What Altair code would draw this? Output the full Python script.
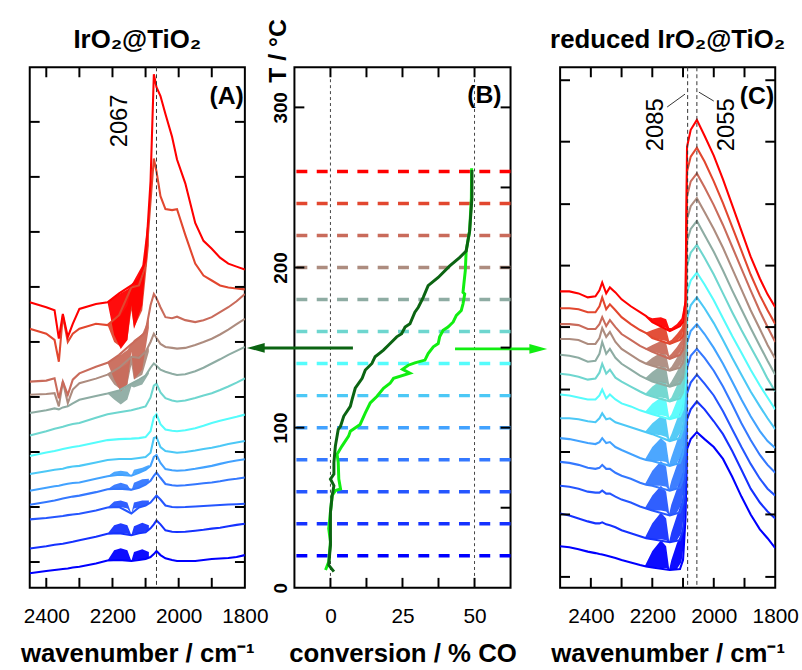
import altair as alt
import pandas as pd

FONT = "Liberation Sans"

# ---------------- temperatures / colours ----------------
TEMPS = [20, 40, 60, 80, 100, 120, 140, 160, 180, 200, 220, 240, 260]
COLORS = ["#0000ff", "#1532ff", "#2556ff", "#3478ff", "#42a2ff", "#4cc8f6", "#55fcfc",
          "#6ed6cf", "#8eaca3", "#ad8c7f", "#c96b5b", "#e2472f", "#ff0000"]

# ---------------- panel A : IrO2@TiO2 spectra (offset heights) ----------------
A_WN = [2450, 2400, 2375, 2362, 2350, 2335, 2320, 2300, 2250, 2215, 2180, 2143, 2120, 2100,
        2085, 2075, 2067, 2055, 2040, 2020, 2005, 1980, 1950, 1925, 1900, 1875, 1850, 1825, 1800]
A20 = [14.7, 17, 18, 18.5, 19, 19.5, 20.5, 21.3, 24.5, 27.5, 28, 27, 28, 29, 31, 34, 37, 33, 29.7, 28, 27, 27, 27, 28, 29, 29.5, 30, 31, 33]
A40 = [39.7, 42, 43.5, 44, 44.5, 45.5, 46.5, 48, 51.5, 54.5, 55, 53, 55, 56, 60, 64, 68, 64, 58, 56.5, 56.3, 56.5, 57.5, 58.5, 59.7, 60.5, 62, 63.5, 64.7]
A60 = [69, 70.5, 71.5, 72, 72.5, 73.3, 74, 74.7, 78, 81, 81.5, 75, 81, 83, 86, 90, 93, 89, 83, 81.5, 81.3, 81.5, 82, 82.5, 83, 83.5, 84, 84.3, 84.7]
A80 = [83.7, 86.5, 88, 89, 90, 91, 92, 93, 96.5, 99.5, 100, 99, 101, 104, 108, 113, 116.3, 111, 104.7, 103.5, 103, 103.5, 104.5, 105.5, 106.3, 107.5, 109, 110, 111.3]
A100 = [98, 101, 102.5, 103, 104, 105, 105.7, 106.3, 110, 112.5, 114, 113, 116, 119, 123, 132, 134, 126, 119.7, 118.5, 118, 118.5, 120, 121.5, 123, 125, 127, 128.5, 129.7]
A120 = [114.7, 117.5, 119, 119.5, 120, 121.5, 122.3, 123, 126.5, 129, 130, 130, 131, 132, 136.3, 151, 152, 142, 138, 137, 136.3, 137, 138.5, 140, 141.3, 143, 145, 146.5, 148]
A140 = [133, 136.5, 138, 139, 140, 141, 142, 143, 146.5, 149, 150, 150.5, 151, 152, 158, 172, 175, 165, 159.7, 158.5, 158, 159, 161, 163.5, 166.3, 168.5, 170.5, 172.5, 174.7]
A160 = [153.7, 158, 160.5, 161.5, 162.5, 164, 165.2, 166.3, 171.5, 175, 177, 179, 181, 183, 192, 204, 206, 197, 191.3, 189, 188, 189, 191.5, 194, 196.3, 199.5, 203, 207, 211.3]
A180 = [176.3, 179, 181, 180, 182, 183, 186, 189.7, 193.5, 196, 199, 206, 210, 214, 222, 226.3, 224, 220, 218, 216, 214.7, 215.5, 218.5, 222, 226.3, 230.5, 235, 239, 243]
A200 = [194.7, 195.5, 196.3, 183, 208, 186.3, 200, 206.3, 211, 215, 222, 233, 232, 238, 248, 256.3, 252, 246, 243, 242, 241.3, 242, 245, 248, 251.3, 255.5, 260.5, 266, 271.3]
A220 = [208, 209, 211.3, 191.3, 208, 194.7, 210, 216.3, 223, 227, 235, 246, 252, 258, 285, 296.3, 292, 283, 273, 272, 273.5, 270, 268, 270, 273, 278, 283, 289, 296.3]
A240 = [261.3, 256.3, 250, 228, 274.7, 248, 256.3, 261.3, 266.3, 265, 275, 303, 305, 325, 390, 433, 420, 395, 382, 381, 382, 356, 327, 315, 310, 305, 303, 302, 301]
A260 = [288, 283, 280, 251.3, 276.3, 253, 266.3, 281.3, 286.3, 288, 297, 305, 312, 330, 410, 518, 505, 496, 478, 455, 432, 408, 368, 350, 342, 333, 327, 324, 321]
A_LINES = [A20, A40, A60, A80, A100, A120, A140, A160, A180, A200, A220, A240, A260]

# gas-phase CO / dense-noise envelopes in panel A
A_BAND_WN = [2215, 2195, 2175, 2155, 2143, 2135, 2110, 2090]
A_BAND_T = [20, 40, 60, 80, 100, 180, 200, 220, 240, 260]
A20_LO = [27.5, 28, 28, 28, 27, 28, 28.5, 30]
A20_HI = [27.5, 38, 40, 38, 27, 36, 39, 36]
A40_LO = [54.5, 55, 55, 54.5, 53, 54.5, 55.5, 58]
A40_HI = [54.5, 63, 65, 63, 53, 62, 65.5, 63]
A60_LO = [81, 81.5, 81.5, 80, 75, 80, 82, 85]
A60_HI = [81, 87, 88, 86, 75, 86, 88, 88]
A80_LO = [99.5, 100, 100, 99.5, 98, 100, 102, 106]
A80_HI = [99.5, 104, 106, 104, 98, 106, 109.5, 110]
A100_LO = [112.5, 114, 114, 114, 113, 115, 117, 122]
A100_HI = [112.5, 117, 118, 117, 113, 119, 121, 124]
A180_LO = [196, 190, 185, 190, 203, 202, 205, 216]
A180_HI = [196, 198, 199, 203, 206, 208, 212, 218]
A200_LO = [215, 205, 200, 205, 225, 210, 215, 238]
A200_HI = [215, 220, 222, 226, 233, 232, 236, 242]
A220_LO = [227, 210, 198, 205, 238, 210, 220, 262]
A220_HI = [227, 232, 235, 240, 246, 250, 256, 272]
A240_LO = [265, 248, 243, 250, 280, 262, 280, 345]
A240_HI = [265, 270, 275, 285, 303, 305, 320, 370]
A260_LO = [288, 255, 241, 250, 285, 261, 285, 365]
A260_HI = [288, 293, 297, 301, 305, 310, 325, 380]
A_LOS = [A20_LO, A40_LO, A60_LO, A80_LO, A100_LO, A180_LO, A200_LO, A220_LO, A240_LO, A260_LO]
A_HIS = [A20_HI, A40_HI, A60_HI, A80_HI, A100_HI, A180_HI, A200_HI, A220_HI, A240_HI, A260_HI]

# ---------------- panel C : reduced IrO2@TiO2 spectra ----------------
C_WN = [2500, 2470, 2440, 2410, 2385, 2372, 2363, 2350, 2338, 2320, 2300, 2270, 2240, 2220, 2200, 2143,
        2110, 2100, 2092, 2087, 2075, 2055, 2030, 2000, 1970, 1940, 1910, 1880, 1850, 1825, 1800]
C20 = [42, 41, 39, 36.5, 35, 34, 33.5, 32.5, 31.5, 30, 28, 25.5, 23, 21.5, 20.5, 18, 19, 28, 70, 140, 150, 157, 150, 142, 130, 112, 92, 74, 59, 50, 40]
C40 = [75, 73, 70, 67, 65, 65, 66, 64, 63, 61, 58, 55, 52, 50, 49, 46, 48, 58, 95, 170, 180, 188, 180, 168, 155, 138, 119, 100, 86, 77, 70]
C60 = [103, 102, 100, 97, 96, 96, 98, 95, 95, 92, 89, 86, 82, 80, 78, 73, 76, 86, 120, 196, 207, 215, 206, 194, 178, 160, 142, 125, 110, 100, 93]
C80 = [127, 126, 124, 121, 120, 121, 124, 120, 120, 116, 113, 110, 106, 104, 103, 98, 101, 110, 145, 222, 234, 241, 232, 219, 203, 185, 166, 149, 134, 124, 116]
C100 = [151, 150, 148, 146, 145, 147, 151, 146, 147, 142, 139, 135, 131, 129, 128, 123, 126, 135, 170, 247, 259, 266, 256, 242, 226, 208, 190, 173, 158, 148, 141]
C120 = [171, 171, 170, 168, 167, 171, 176, 170, 171, 167, 165, 162, 159, 157, 155, 148, 151, 160, 190, 272, 285, 293, 282, 267, 250, 232, 215, 198, 183, 171, 160]
C140 = [195, 194, 192, 190, 190, 194, 200, 191, 195, 190, 186, 183, 179, 177, 175, 170, 173, 180, 210, 298, 310, 318, 306, 290, 272, 254, 237, 220, 204, 192, 180]
C160 = [216, 215, 213, 210, 211, 217, 226, 216, 220, 212, 208, 203, 198, 195, 193, 188, 191, 197, 222, 325, 338, 346, 333, 316, 297, 278, 260, 243, 226, 211, 198]
C180 = [235, 234, 232, 228, 229, 236, 248, 236, 241, 232, 226, 220, 214, 211, 208, 203, 206, 212, 235, 350, 362, 370, 356, 339, 320, 300, 281, 262, 244, 229, 215]
C200 = [251, 251, 250, 246, 246, 252, 262, 253, 258, 248, 241, 235, 229, 226, 224, 219, 222, 227, 250, 372, 385, 393, 379, 362, 343, 322, 301, 280, 261, 245, 231]
C220 = [266, 266, 265, 261, 261, 266, 273, 264, 270, 263, 256, 250, 244, 241, 238, 231, 235, 240, 262, 395, 410, 418, 404, 386, 366, 344, 322, 300, 279, 263, 248]
C240 = [282, 282, 281, 278, 278, 284, 293, 281, 286, 280, 273, 266, 260, 257, 252, 246, 250, 254, 275, 420, 435, 444, 430, 410, 388, 364, 340, 316, 295, 280, 266]
C260 = [299, 299, 297, 293, 294, 300, 308, 297, 303, 298, 291, 284, 278, 274, 268, 259, 264, 268, 290, 445, 462, 472, 456, 436, 412, 386, 360, 334, 312, 296, 283]
C_LINES = [C20, C40, C60, C80, C100, C120, C140, C160, C180, C200, C220, C240, C260]

C_BAND_WN = [2225, 2200, 2172, 2155, 2145, 2138, 2120, 2105, 2095]
C20_LO = [21.5, 20.5, 20, 20, 18, 18, 19, 26, 50]
C20_HI = [21.5, 37, 48, 42, 19, 28, 45, 55, 70]
C40_LO = [50, 49, 49, 48, 46, 46, 48, 55, 80]
C40_HI = [50, 65, 76, 70, 47, 56, 73, 86, 100]
C60_LO = [80, 78, 78, 77, 73, 73, 76, 84, 105]
C60_HI = [80, 93, 103, 97, 75, 84, 100, 113, 125]
C80_LO = [104, 103, 103, 102, 98, 98, 101, 108, 130]
C80_HI = [104, 118, 128, 122, 100, 108, 124, 137, 150]
C100_LO = [129, 128, 128, 127, 123, 123, 126, 133, 155]
C100_HI = [129, 142, 151, 146, 125, 132, 148, 160, 175]
C120_LO = [157, 155, 154, 152, 148, 148, 151, 158, 178]
C120_HI = [157, 166, 173, 170, 150, 155, 170, 182, 195]
C140_LO = [177, 175, 174, 173, 170, 170, 172, 178, 195]
C140_HI = [177, 186, 192, 190, 172, 175, 189, 200, 212]
C160_LO = [195, 193, 192, 191, 188, 188, 190, 195, 210]
C160_HI = [195, 203, 209, 207, 190, 192, 204, 214, 225]
C180_LO = [211, 208, 207, 206, 203, 203, 205, 210, 225]
C180_HI = [211, 218, 224, 222, 205, 208, 218, 227, 238]
C200_LO = [226, 224, 223, 222, 219, 219, 221, 226, 240]
C200_HI = [226, 232, 237, 235, 221, 223, 232, 240, 252]
C220_LO = [241, 238, 236, 235, 231, 231, 234, 239, 252]
C220_HI = [241, 245, 249, 247, 234, 236, 243, 250, 262]
C240_LO = [257, 252, 250, 249, 246, 246, 249, 253, 265]
C240_HI = [257, 260, 263, 261, 249, 250, 256, 262, 275]
C260_LO = [275, 268, 264, 262, 259, 259, 262, 266, 278]
C260_HI = [275, 272, 273, 271, 262, 262, 266, 272, 288]
C_LOS = [C20_LO, C40_LO, C60_LO, C80_LO, C100_LO, C120_LO, C140_LO, C160_LO, C180_LO, C200_LO, C220_LO, C240_LO, C260_LO]
C_HIS = [C20_HI, C40_HI, C60_HI, C80_HI, C100_HI, C120_HI, C140_HI, C160_HI, C180_HI, C200_HI, C220_HI, C240_HI, C260_HI]

# ---------------- panel B : conversion vs temperature ----------------
OX_T = [10.1, 14.2, 26.6, 37, 47.2, 57.6, 63.8, 67.9, 71, 78.2, 88.5, 98.9, 100.9, 107.1, 113.3, 117.5, 124.6,
        130.8, 136, 140.1, 144.3, 148.4, 151.5, 156.7, 158.7, 162.8, 164.9, 172.1, 175.2, 181.4, 188.7, 193.8,
        201, 206.2, 210.3, 222.7, 243.3, 260.9]
OX_CONV = [1.2, -0.6, 0, 0, 0, 0.6, 1.2, 0, 1.2, 1.2, 1.7, 2.7, 3.5, 4.6, 6.9, 7.5, 8.6, 11, 12.1, 14.4, 15.5,
           18.4, 20.1, 23, 24.7, 25.9, 27.6, 29.3, 30.5, 32.2, 33.9, 37.4, 41.4, 44.8, 47.1, 48.3, 49.1, 49.1]
RED_T = [11.1, 16.3, 28.7, 37, 47.2, 57.6, 60.7, 61.7, 67.9, 78.2, 83.4, 88.5, 94.7, 97.8, 102, 109.2, 115.4,
         119.5, 124.6, 127.7, 130.8, 134, 136.5, 139, 140.5, 142.2, 146.3, 150.5, 152.5, 156.7, 160.8, 162.8,
         166, 170.1, 173.2, 177.3, 183.5, 184.5, 189.7, 198, 210.3, 222.9, 243.3, 262]
RED_CONV = [-1.7, -0.6, 0, -0.6, 0, 0.6, 1.7, 3.5, 2.9, 2.7, 2.3, 4, 6.3, 6.9, 10.3, 12.1, 13.8, 16.1, 18.4,
            20.7, 21.9, 27.6, 25.0, 27.0, 29.3, 32.8, 33.9, 35.7, 37.4, 37.9, 39.1, 40.8, 42.6, 43.7, 45.4, 46,
            46.6, 46, 46.3, 46.8, 47.1, 48.3, 48.9, 49]

# ---------------- guides / ticks ----------------
A_MARK = [2067]
C_MARK = [2085, 2055]
B_MARK = [0, 50]
A_XTICKS = [2400, 2300, 2200, 2100, 2000, 1900]
C_XTICKS = [2400, 2300, 2200, 2100, 2000, 1900]
A_YTICKS = [26, 81.5, 137, 192.5, 248, 303.5, 359, 414.5, 470]
C_YTICKS = [11, 74, 137, 200, 263, 325, 387, 450, 512]
B_XTICKS = [0, 12.5, 25, 37.5, 50]
B_YTICKS_L = [100, 200, 300]
B_YTICKS_R = [50, 100, 150, 200, 250, 300]
WN_LABELS = [2400, 2200, 2000, 1800]
CONV_LABELS = [0, 25, 50]
T_LABELS = [0, 100, 200, 300]

W_A, W_B, W_C, H = 217, 218, 217, 525
TL = 10  # tick length (px)

cscale = alt.Scale(domain=TEMPS, range=COLORS)


def lines_df(wn, series):
    rows = []
    for t, ys in zip(TEMPS, series):
        for w, h in zip(wn, ys):
            rows.append({"temp": t, "wn": w, "h": h})
    return pd.DataFrame(rows)


def bands_df(wn, temps, los, his):
    rows = []
    for t, lo, hi in zip(temps, los, his):
        for w, a, b in zip(wn, lo, hi):
            rows.append({"temp": t, "wn": w, "lo": a, "hi": b})
    return pd.DataFrame(rows)


def ticks(xvals, ylvals, yrvals, xf, yf, X, Y, W):
    tk = dict(color="black", strokeWidth=2)
    dx = pd.DataFrame({xf: xvals})
    dyl = pd.DataFrame({yf: ylvals})
    dyr = pd.DataFrame({yf: yrvals})
    return [
        alt.Chart(dx).mark_rule(**tk).encode(x=X(xf), y=alt.value(0), y2=alt.value(TL)),
        alt.Chart(dx).mark_rule(**tk).encode(x=X(xf), y=alt.value(H - TL), y2=alt.value(H)),
        alt.Chart(dyl).mark_rule(**tk).encode(y=Y(yf), x=alt.value(0), x2=alt.value(TL)),
        alt.Chart(dyr).mark_rule(**tk).encode(y=Y(yf), x=alt.value(W - TL), x2=alt.value(W)),
    ]


def spectra_panel(wn, series, band_wn, band_t, los, his, xmax, xticks, yticks, marks, label, W):
    xs = alt.Scale(domain=[1800, xmax], reverse=True, nice=False, zero=False)
    ys = alt.Scale(domain=[0, 525], nice=False, zero=False)
    xax = alt.Axis(values=WN_LABELS, format="d", title="wavenumber / cm⁻¹", ticks=False, tickSize=0,
                   domain=False, grid=False, labelFontSize=21, labelPadding=18,
                   labelFlush=False, titleFontSize=26, titleFontWeight="bold", titlePadding=14)

    def X(f):
        return alt.X(f"{f}:Q", scale=xs, axis=xax)

    def Y(f, **kw):
        return alt.Y(f"{f}:Q", scale=ys, axis=None, **kw)

    col = alt.Color("temp:O", scale=cscale, legend=None)
    band = alt.Chart(bands_df(band_wn, band_t, los, his)).mark_area(
        opacity=0.95, clip=True, interpolate="linear").encode(
        x=X("wn"), y=Y("lo", stack=None), y2="hi:Q", color=col, detail="temp:O")
    line = alt.Chart(lines_df(wn, series)).mark_line(strokeWidth=2.1, clip=True).encode(
        x=X("wn"), y=Y("h"), color=col, detail="temp:O")
    mk = alt.Chart(pd.DataFrame({"wn": marks})).mark_rule(
        color="#333333", strokeWidth=1, strokeDash=[4, 3]).encode(x=X("wn"))
    lab = alt.Chart(pd.DataFrame({"t": [label]})).mark_text(
        font=FONT, fontSize=25, fontWeight="bold", align="right", baseline="middle").encode(
        text="t:N", x=alt.value(W - 1), y=alt.value(29))
    layers = [band, line, mk] + ticks(xticks, yticks, yticks, "wn", "h", X, Y, W) + [lab]
    return layers


# ----- panel A -----
layA = spectra_panel(A_WN, A_LINES, A_BAND_WN, A_BAND_T, A_LOS, A_HIS,
                     2450, A_XTICKS, A_YTICKS, A_MARK, "(A)", W_A)
txtA = alt.Chart(pd.DataFrame({"t": [str(v) for v in A_MARK]})).mark_text(
    font=FONT, fontSize=24, angle=270, align="center", baseline="middle").encode(
    text="t:N", x=alt.value(91), y=alt.value(54))
panelA = alt.layer(*layA, txtA).properties(
    width=W_A, height=H,
    title=alt.TitleParams("IrO₂@TiO₂", fontSize=26, fontWeight="bold", font=FONT, offset=14))

# ----- panel C -----
layC = spectra_panel(C_WN, C_LINES, C_BAND_WN, TEMPS, C_LOS, C_HIS,
                     2500, C_XTICKS, C_YTICKS, C_MARK, "(C)", W_C)
txtC = alt.Chart(pd.DataFrame({"t": [str(v) for v in C_MARK], "px": [97, 168]})).mark_text(
    font=FONT, fontSize=24, angle=270, align="center", baseline="middle").encode(
    text="t:N", x=alt.X("px:Q", scale=None), y=alt.value(58))
lead1 = alt.Chart(pd.DataFrame({"a": [0]})).mark_rule(color="#333333", strokeWidth=1).encode(
    x=alt.value(108), y=alt.value(40), x2=alt.value(126), y2=alt.value(27))
lead2 = alt.Chart(pd.DataFrame({"a": [0]})).mark_rule(color="#333333", strokeWidth=1).encode(
    x=alt.value(140), y=alt.value(25), x2=alt.value(155), y2=alt.value(34))
panelC = alt.layer(*layC, txtC, lead1, lead2).properties(
    width=W_C, height=H,
    title=alt.TitleParams("reduced IrO₂@TiO₂", fontSize=26, fontWeight="bold", font=FONT, offset=14))

# ----- panel B -----
xsB = alt.Scale(domain=[-12.5, 62.5], nice=False, zero=False)
ysB = alt.Scale(domain=[0, 325], nice=False, zero=False)
xaxB = alt.Axis(values=CONV_LABELS, format="d", title="conversion / % CO", ticks=False, tickSize=0,
                domain=False, grid=False, labelFontSize=21, labelPadding=18, labelFlush=False,
                titleFontSize=26, titleFontWeight="bold", titlePadding=14)
yaxB = alt.Axis(values=T_LABELS, format="d", title="T / °C", ticks=False, tickSize=0, domain=False,
                grid=False, labelFontSize=19, labelFontWeight="bold", labelAngle=270,
                labelAlign="center", labelBaseline="alphabetic", labelPadding=8, labelFlush=False,
                titleFontSize=25, titleFontWeight="bold", titleAngle=270, titleAlign="center",
                titleBaseline="middle", titleX=-17, titleY=-17)


def XB(f):
    return alt.X(f"{f}:Q", scale=xsB, axis=xaxB)


def YB(f):
    return alt.Y(f"{f}:Q", scale=ysB, axis=yaxB)


hl = alt.Chart(pd.DataFrame({"T": TEMPS, "temp": TEMPS})).mark_rule(
    strokeWidth=3.5, strokeDash=[11, 9.5]).encode(
    y=YB("T"), color=alt.Color("temp:O", scale=cscale, legend=None))
vl = alt.Chart(pd.DataFrame({"conv": B_MARK})).mark_rule(
    color="#444444", strokeWidth=1, strokeDash=[3, 3]).encode(x=XB("conv"))
red_df = pd.DataFrame({"conv": RED_CONV, "T": RED_T, "i": list(range(len(RED_T)))})
ox_df = pd.DataFrame({"conv": OX_CONV, "T": OX_T, "i": list(range(len(OX_T)))})
red_line = alt.Chart(red_df).mark_line(color="#11ee11", strokeWidth=3).encode(
    x=XB("conv"), y=YB("T"), order="i:Q")
ox_line = alt.Chart(ox_df).mark_line(color="#0b6412", strokeWidth=3).encode(
    x=XB("conv"), y=YB("T"), order="i:Q")
one = pd.DataFrame({"a": [0]})
arrow1 = alt.Chart(one).mark_rule(color="#0b6412", strokeWidth=3).encode(
    x=alt.value(-40), x2=alt.value(59), y=alt.value(283))
head1 = alt.Chart(one).mark_point(shape="M-1,0L1,-0.55L1,0.55Z", filled=True, size=324,
                                  color="#0b6412", opacity=1, strokeWidth=0).encode(
    x=alt.value(-39), y=alt.value(283))
arrow2 = alt.Chart(one).mark_rule(color="#11ee11", strokeWidth=3).encode(
    x=alt.value(162), x2=alt.value(248), y=alt.value(284))
head2 = alt.Chart(one).mark_point(shape="M1,0L-1,-0.55L-1,0.55Z", filled=True, size=324,
                                  color="#11ee11", opacity=1, strokeWidth=0).encode(
    x=alt.value(246), y=alt.value(284))
labB = alt.Chart(pd.DataFrame({"t": ["(B)"]})).mark_text(
    font=FONT, fontSize=25, fontWeight="bold", align="right", baseline="middle").encode(
    text="t:N", x=alt.value(W_B - 9), y=alt.value(28))
ticksB = ticks(B_XTICKS, B_YTICKS_L, B_YTICKS_R, "conv", "T", XB, YB, W_B)
panelB = alt.layer(hl, vl, red_line, ox_line, arrow1, head1, arrow2, head2, *ticksB, labB).properties(
    width=W_B, height=H)

chart = alt.HConcatChart(hconcat=[panelA, panelB, panelC], spacing=50, bounds="flush").properties(
    padding={"left": 19, "top": 14, "right": 2, "bottom": 2}
).configure(font=FONT).configure_view(stroke="black", strokeWidth=2).configure_axis(
    labelFont=FONT, titleFont=FONT, labelColor="black", titleColor="black"
).configure_text(font=FONT)

chart.save("out.html", embed_options={"renderer": "svg", "actions": False})
